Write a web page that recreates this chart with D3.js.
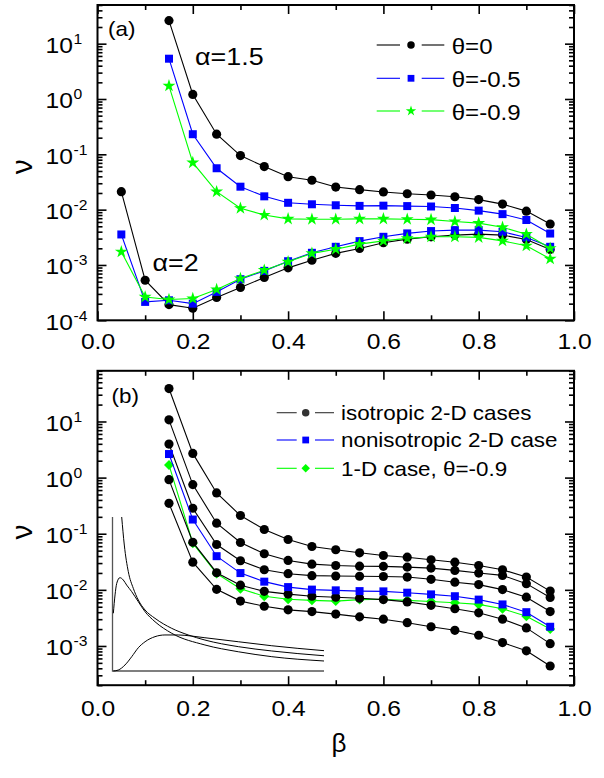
<!DOCTYPE html>
<html>
<head>
<meta charset="utf-8">
<script src="https://cdn.jsdelivr.net/npm/d3@7"></script>
<style>
  body { margin: 0; background: #fff; }
  text { font-family: "Liberation Sans", Arial, Helvetica, sans-serif; fill: #000; }
</style>
</head>
<body>
<svg id="chart" width="604" height="778"></svg>
<script>
// ---------- data ----------
// panel (a): relaxation rate ν versus β, α = 2 starts at β = 0.05, α = 1.5 at β = 0.15
const betaA2 = [0.05, 0.10, 0.15, 0.20, 0.25, 0.30, 0.35, 0.40, 0.45, 0.50,
                0.55, 0.60, 0.65, 0.70, 0.75, 0.80, 0.85, 0.90, 0.95];
const betaA15 = [0.15, 0.20, 0.25, 0.30, 0.35, 0.40, 0.45, 0.50, 0.55,
                 0.60, 0.65, 0.70, 0.75, 0.80, 0.85, 0.90, 0.95];

const a15Theta0  = [26.1, 1.21, 0.231, 0.095, 0.060, 0.0394, 0.034, 0.0256, 0.023,
                    0.0209, 0.0194, 0.0184, 0.0171, 0.0152, 0.0126, 0.0094, 0.0055];
const a15ThetaM5 = [5.35, 0.231, 0.056, 0.026, 0.0174, 0.0133, 0.0125, 0.0120, 0.0117,
                    0.0118, 0.0116, 0.0114, 0.0107, 0.0096, 0.0083, 0.0065, 0.0037];
const a15ThetaM9 = [1.73, 0.0708, 0.0211, 0.0106, 0.0080, 0.0068, 0.0067, 0.0067, 0.0068,
                    0.0068, 0.0067, 0.0066, 0.0061, 0.0057, 0.0048, 0.0036, 0.0020];

const a2Theta0  = [0.0211, 5.3e-4, 1.92e-4, 1.65e-4, 2.58e-4, 3.91e-4, 5.93e-4, 8.87e-4, 1.22e-3,
                   1.62e-3, 1.99e-3, 2.52e-3, 2.93e-3, 3.23e-3, 3.47e-3, 3.61e-3, 3.47e-3, 2.89e-3, 1.91e-3];
const a2ThetaM5 = [3.56e-3, 2.15e-4, 2.30e-4, 2.0e-4, 3.26e-4, 5.53e-4, 7.82e-4, 1.17e-3, 1.66e-3,
                   2.13e-3, 2.70e-3, 3.23e-3, 3.72e-3, 4.1e-3, 4.27e-3, 4.27e-3, 3.98e-3, 3.15e-3, 2.13e-3];
const a2ThetaM9 = [1.73e-3, 2.64e-4, 2.37e-4, 2.47e-4, 3.6e-4, 5.69e-4, 8.05e-4, 1.14e-3, 1.62e-3,
                   1.93e-3, 2.38e-3, 2.73e-3, 3.02e-3, 3.23e-3, 3.23e-3, 3.15e-3, 2.73e-3, 2.22e-3, 1.29e-3];

// panel (b)
const betaB = [0.15, 0.20, 0.25, 0.30, 0.35, 0.40, 0.45, 0.50, 0.55,
               0.60, 0.65, 0.70, 0.75, 0.80, 0.85, 0.90, 0.95];
const iso1 = [38.6, 2.70, 0.533, 0.211, 0.119, 0.0789, 0.0592, 0.0518, 0.0457,
              0.0409, 0.0382, 0.0344, 0.0311, 0.0272, 0.0228, 0.0169, 0.0095];
const iso2 = [10.7, 0.75, 0.154, 0.0698, 0.044, 0.0334, 0.0287, 0.0272, 0.0264,
              0.0262, 0.0254, 0.0244, 0.0222, 0.0199, 0.0181, 0.0129, 0.0073];
const iso3 = [3.96, 0.284, 0.0643, 0.033, 0.0228, 0.0194, 0.0179, 0.0176, 0.0175,
              0.0173, 0.0169, 0.0154, 0.0137, 0.0124, 0.0101, 0.0074, 0.0041];
const iso4 = [0.92, 0.0706, 0.0202, 0.0121, 0.0094, 0.0084, 0.0077, 0.0074, 0.0071,
              0.0067, 0.0061, 0.0053, 0.0046, 0.0039, 0.0030, 0.0021, 0.0011];
const iso5 = [0.348, 0.0311, 0.0102, 0.0063, 0.0051, 0.0044, 0.0041, 0.0037, 0.0033,
              0.0030, 0.0026, 0.0022, 0.0019, 0.00155, 0.00115, 0.00082, 0.00044];
const nonIso = [2.63, 0.179, 0.0398, 0.0199, 0.0140, 0.0112, 0.0101, 0.0098, 0.0095,
                0.0094, 0.0089, 0.0083, 0.0077, 0.0067, 0.0055, 0.0040, 0.0022];
const oneD = [1.68, 0.068, 0.0195, 0.0105, 0.0077, 0.0068, 0.0065, 0.0063, 0.0067,
              0.0068, 0.0065, 0.0062, 0.0059, 0.0055, 0.0046, 0.0034, 0.0020];

// inset of panel (b): three curves in the inset's own unit box
const insetA = [[0.0435, 1.0], [0.0558, 0.818], [0.0747, 0.645], [0.0983, 0.537], [0.122, 0.461],
                [0.154, 0.396], [0.201, 0.342], [0.280, 0.277], [0.358, 0.234], [0.437, 0.201],
                [0.595, 0.158], [0.753, 0.130], [1.0, 0.099]];
const insetB = [[0.004, 0.375], [0.012, 0.494], [0.020, 0.569], [0.035, 0.606], [0.051, 0.591],
                [0.067, 0.558], [0.091, 0.515], [0.122, 0.450], [0.154, 0.385], [0.201, 0.320],
                [0.280, 0.245], [0.437, 0.169], [0.595, 0.125], [0.753, 0.093], [1.0, 0.065]];
const insetC = [[0.004, 0.0], [0.027, 0.006], [0.059, 0.039], [0.091, 0.093], [0.122, 0.151],
                [0.154, 0.190], [0.201, 0.223], [0.248, 0.234], [0.311, 0.234], [0.374, 0.227],
                [0.437, 0.216], [0.595, 0.190], [0.753, 0.164], [1.0, 0.132]];

// axis ticks
const xMajorTicks = [0, 0.2, 0.4, 0.6, 0.8, 1.0];
const xMinorTicks = [0.1, 0.3, 0.5, 0.7, 0.9];
const yExpA = [-4, -3, -2, -1, 0, 1];
const yExpB = [-3, -2, -1, 0, 1];

const legendA = ["θ=0", "θ=-0.5", "θ=-0.9"];
const legendB = ["isotropic 2-D cases", "nonisotropic 2-D case", "1-D case, θ=-0.9"];

// ---------- drawing ----------
const SX = 1.12;              // horizontal widening of the lettering
const BLUE = "#0000ff", GREEN = "#00ff00", BLACK = "#000000";
const svg = d3.select("#chart");

function stretchedText(g, x, y, str, size, anchor) {
  return g.append("text")
    .attr("transform", `translate(${x},${y}) scale(${SX},1)`)
    .attr("font-size", size)
    .attr("text-anchor", anchor || "start")
    .text(str);
}

const symbolOf = {
  circle: { type: d3.symbolCircle, size: 66, rot: 0 },
  square: { type: d3.symbolSquare, size: 64, rot: 0 },
  star: { type: d3.symbolStar, size: 52, rot: 0 },
  diamond: { type: d3.symbolSquare, size: 50, rot: 45 }
};
const legendSymbol = {
  circle: { type: d3.symbolCircle, size: 44, rot: 0 },
  square: { type: d3.symbolSquare, size: 46, rot: 0 },
  star: { type: d3.symbolStar, size: 34, rot: 0 },
  diamond: { type: d3.symbolSquare, size: 36, rot: 45 }
};

function panel(cfg) {
  const x = d3.scaleLinear().domain([0, 1]).range([cfg.left, cfg.right]);
  const y = d3.scaleLog().domain(cfg.yDomain).range([cfg.bottom, cfg.top]);
  const g = svg.append("g");

  const tickStyle = sel => {
    sel.select(".domain").remove();
    sel.selectAll("line").attr("stroke", "#000").attr("stroke-width", 1.6);
  };

  // x axis: bottom with labels, top without
  const bottom = g.append("g").attr("transform", `translate(0,${cfg.bottom})`)
    .call(d3.axisBottom(x).tickValues(xMajorTicks).tickSizeInner(-9).tickSizeOuter(0)
      .tickFormat(d3.format(".1f")))
    .call(tickStyle);
  bottom.selectAll("text")
    .attr("y", null).attr("dy", null).attr("fill", "#000")
    .attr("font-size", 22)
    .attr("transform", `translate(0,${cfg.xLabelBase - cfg.bottom}) scale(${SX},1)`);
  bottom.attr("font-family", null).attr("font-size", null);

  g.append("g").attr("transform", `translate(0,${cfg.bottom})`)
    .call(d3.axisBottom(x).tickValues(xMinorTicks).tickSizeInner(-5).tickSizeOuter(0).tickFormat(""))
    .call(tickStyle);
  g.append("g").attr("transform", `translate(0,${cfg.top})`)
    .call(d3.axisTop(x).tickValues(xMajorTicks).tickSizeInner(-9).tickSizeOuter(0).tickFormat(""))
    .call(tickStyle);
  g.append("g").attr("transform", `translate(0,${cfg.top})`)
    .call(d3.axisTop(x).tickValues(xMinorTicks).tickSizeInner(-5).tickSizeOuter(0).tickFormat(""))
    .call(tickStyle);

  // y axis: log decades with minor ticks 2..9
  const [lo, hi] = cfg.yDomain;
  const majors = cfg.yExp.map(e => Math.pow(10, e));
  const minors = [];
  for (let e = Math.floor(Math.log10(lo)); e <= Math.ceil(Math.log10(hi)); e++) {
    for (let m = 2; m <= 9; m++) {
      const v = m * Math.pow(10, e);
      if (v >= lo * 0.999 && v <= hi * 1.001) minors.push(v);
    }
  }
  [[d3.axisLeft, cfg.left], [d3.axisRight, cfg.right]].forEach(([ax, pos]) => {
    g.append("g").attr("transform", `translate(${pos},0)`)
      .call(ax(y).tickValues(majors).tickSizeInner(-9).tickSizeOuter(0).tickFormat(""))
      .call(tickStyle);
    g.append("g").attr("transform", `translate(${pos},0)`)
      .call(ax(y).tickValues(minors).tickSizeInner(-5).tickSizeOuter(0).tickFormat(""))
      .call(tickStyle);
  });

  // y tick labels: 10 with superscript exponent
  cfg.yExp.forEach(e => {
    const yy = y(Math.pow(10, e));
    stretchedText(g, 73, yy + 9.5, "10", 22, "end");
    stretchedText(g, 73.5, yy + 0.5, String(e), 14, "start");
  });

  // frame
  g.append("rect")
    .attr("x", cfg.left).attr("y", cfg.top)
    .attr("width", cfg.right - cfg.left).attr("height", cfg.bottom - cfg.top)
    .attr("fill", "none").attr("stroke", "#000").attr("stroke-width", 2);

  // y axis title
  g.append("text")
    .attr("transform", `translate(32,${(cfg.top + cfg.bottom) / 2 + 4}) rotate(-90)`)
    .attr("text-anchor", "middle").attr("font-size", 30).text("ν");

  return { g, x, y };
}

function drawSeries(p, xs, ys, color, shape) {
  const pts = xs.map((b, i) => [b, ys[i]]);
  const line = d3.line().x(d => p.x(d[0])).y(d => p.y(d[1]));
  const s = p.g.append("g");
  s.append("path").attr("d", line(pts)).attr("fill", "none")
    .attr("stroke", color).attr("stroke-width", 1.1);
  const sym = symbolOf[shape];
  s.selectAll("path.mk").data(pts).join("path").attr("class", "mk")
    .attr("d", d3.symbol().type(sym.type).size(sym.size))
    .attr("transform", d => `translate(${p.x(d[0])},${p.y(d[1])}) rotate(${sym.rot})`)
    .attr("fill", color);
}

function legendRow(g, cy, x0, x1, xm, x2, x3, tx, color, shape, label, fs, base) {
  g.append("line").attr("x1", x0).attr("x2", x1).attr("y1", cy).attr("y2", cy)
    .attr("stroke", color).attr("stroke-width", 1.1);
  g.append("line").attr("x1", x2).attr("x2", x3).attr("y1", cy).attr("y2", cy)
    .attr("stroke", color).attr("stroke-width", 1.1);
  const sym = legendSymbol[shape];
  g.append("path").attr("d", d3.symbol().type(sym.type).size(sym.size)())
    .attr("transform", `translate(${xm},${cy}) rotate(${sym.rot})`).attr("fill", color);
  stretchedText(g, tx, cy + base, label, fs, "start");
}

// ----- panel (a) -----
const pa = panel({ left: 97.5, right: 574, top: 5, bottom: 320.3,
                   yDomain: [1e-4, 50], yExp: yExpA, xLabelBase: 349 });
drawSeries(pa, betaA15, a15Theta0, BLACK, "circle");
drawSeries(pa, betaA2, a2Theta0, BLACK, "circle");
drawSeries(pa, betaA15, a15ThetaM5, BLUE, "square");
drawSeries(pa, betaA2, a2ThetaM5, BLUE, "square");
drawSeries(pa, betaA15, a15ThetaM9, GREEN, "star");
drawSeries(pa, betaA2, a2ThetaM9, GREEN, "star");

stretchedText(pa.g, 108, 36, "(a)", 20, "start");
stretchedText(pa.g, 195, 65, "α=1.5", 24, "start");
stretchedText(pa.g, 152.5, 271, "α=2", 24, "start");

const legA = pa.g.append("g");
[[BLACK, "circle"], [BLUE, "square"], [GREEN, "star"]].forEach(([c, sh], i) => {
  legendRow(legA, [45, 78.3, 111][i], 376.7, 400, 411, 421.7, 444.3, 451.7, c, sh, legendA[i], 21.5, 8.5);
});

// ----- panel (b) -----
const pb = panel({ left: 97.5, right: 574, top: 370.8, bottom: 685.2,
                   yDomain: [2e-4, 80], yExp: yExpB, xLabelBase: 715.5 });
drawSeries(pb, betaB, oneD, GREEN, "diamond");
[iso1, iso2, iso3, iso4, iso5].forEach(s => drawSeries(pb, betaB, s, BLACK, "circle"));
drawSeries(pb, betaB, nonIso, BLUE, "square");

stretchedText(pb.g, 111.5, 403, "(b)", 20, "start");

const legB = pb.g.append("g");
[["#333333", "circle"], [BLUE, "square"], [GREEN, "diamond"]].forEach(([c, sh], i) => {
  legendRow(legB, [412.7, 440, 468.3][i], 276.7, 296.7, 305.7, 315, 334, 341, c, sh, legendB[i], 20, 7.3);
});

// inset
const xi = d3.scaleLinear().domain([0, 1]).range([112.5, 324]);
const yi = d3.scaleLinear().domain([0, 1]).range([671, 517]);
const inset = pb.g.append("g");
inset.append("path")
  .attr("d", d3.line()([[xi(0), yi(1)], [xi(0), yi(0)], [xi(1), yi(0)]]))
  .attr("fill", "none").attr("stroke", "#555").attr("stroke-width", 1.3);
const insetLine = d3.line().x(d => xi(d[0])).y(d => yi(d[1])).curve(d3.curveMonotoneX);
[insetA, insetB, insetC].forEach(c => {
  inset.append("path").attr("d", insetLine(c)).attr("fill", "none")
    .attr("stroke", "#000").attr("stroke-width", 1);
});

// shared x axis title
svg.append("text").attr("x", 339).attr("y", 752).attr("text-anchor", "middle")
  .attr("font-size", 26).text("β");
</script>
</body>
</html>
